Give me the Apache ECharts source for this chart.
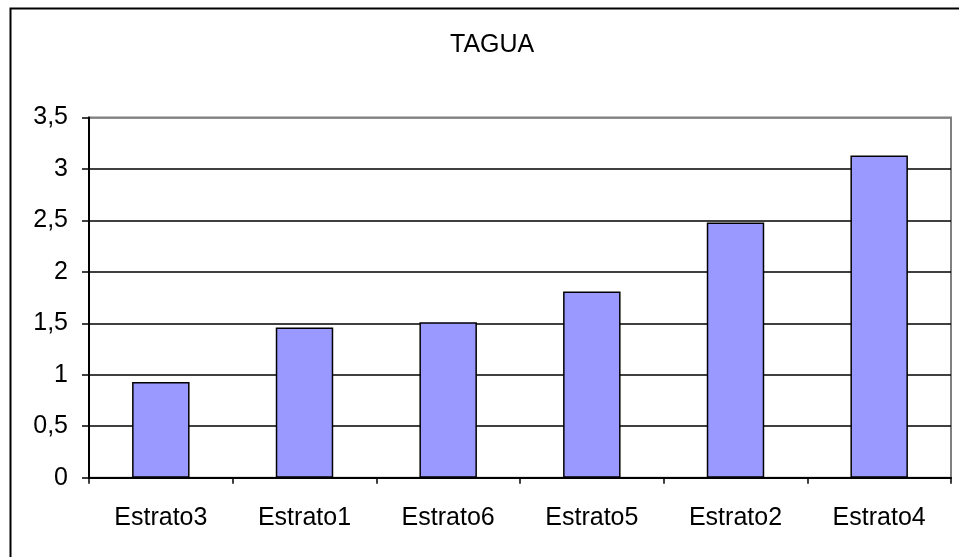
<!DOCTYPE html>
<html>
<head>
<meta charset="utf-8">
<script src="https://cdn.jsdelivr.net/npm/echarts@6/dist/echarts.min.js"></script>
<style>
html,body{margin:0;padding:0;background:#fff;}
#c{width:959px;height:557px;}
</style>
</head>
<body>
<div id="c"></div>
<script>
var title = 'TAGUA';
var categories = ['Estrato3', 'Estrato1', 'Estrato6', 'Estrato5', 'Estrato2', 'Estrato4'];
var values = [0.93, 1.46, 1.51, 1.81, 2.48, 3.13];
var yMin = 0, yMax = 3.5, yStep = 0.5;

var chart = echarts.init(document.getElementById('c'), null, {renderer: 'canvas'});
var font = 'Liberation Sans, Arial, sans-serif';
chart.setOption({
  animation: false,
  backgroundColor: '#fff',
  title: {
    text: title, left: 445, top: 28,
    textStyle: {fontFamily: font, fontSize: 25, fontWeight: 'normal', color: '#000'}
  },
  graphic: [{
    type: 'rect', left: 8, top: 6, z: 100,
    shape: {width: 1000, height: 600},
    style: {fill: 'none', stroke: '#000', lineWidth: 2}
  }],
  grid: {
    left: 89, top: 117.5, right: 8, bottom: 79.3,
    show: true, borderColor: '#808080', borderWidth: 2, backgroundColor: '#fff'
  },
  xAxis: {
    type: 'category', data: categories,
    axisLine: {lineStyle: {color: '#000', width: 2}},
    axisTick: {show: true, length: 6, lineStyle: {color: '#000', width: 1.5}, alignWithLabel: false},
    axisLabel: {fontFamily: font, fontSize: 25, color: '#000', margin: 28}
  },
  yAxis: {
    type: 'value', min: yMin, max: yMax, interval: yStep,
    axisLine: {show: true, lineStyle: {color: '#000', width: 2}},
    axisTick: {show: true, length: 7, lineStyle: {color: '#000', width: 1.5}},
    axisLabel: {fontFamily: font, fontSize: 25, color: '#000', margin: 21,
      formatter: function (v) { return String(v).replace('.', ','); }},
    splitLine: {show: true, lineStyle: {color: ['#000','#000','#000','#000','#000','#000','#000','#808080'], width: 1.5}}
  },
  series: [{
    type: 'bar', data: values, barWidth: '40%',
    itemStyle: {color: '#9999FF', borderColor: '#000', borderWidth: 1.5}
  }]
});
</script>
</body>
</html>
